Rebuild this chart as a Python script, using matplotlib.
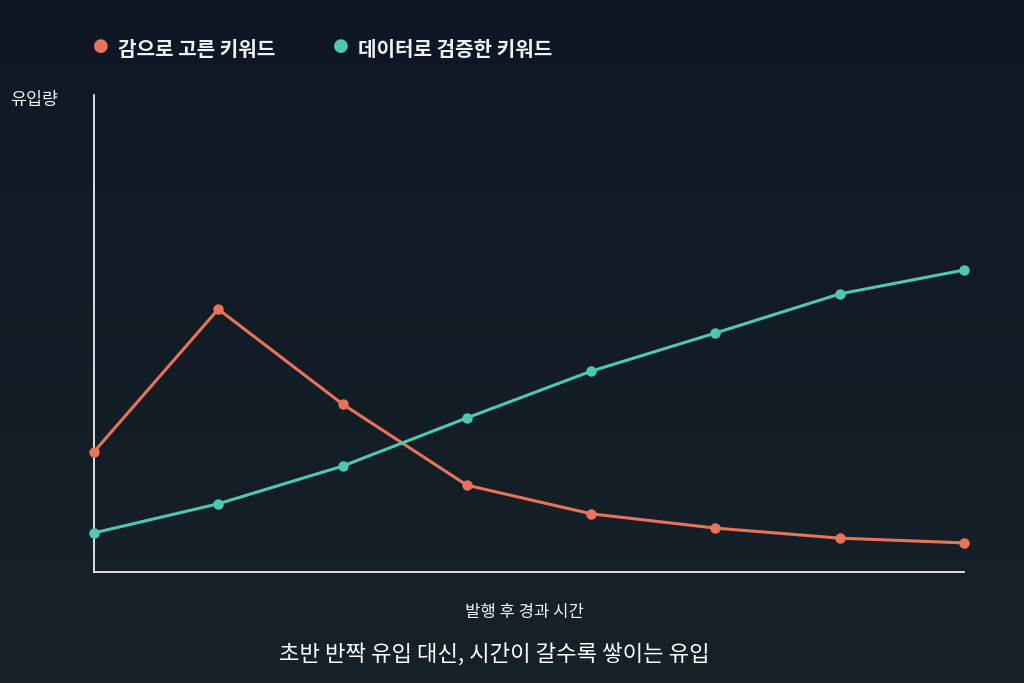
import numpy as np
import matplotlib.pyplot as plt
from matplotlib.colors import LinearSegmentedColormap

plt.rcParams['font.family'] = ['Noto Sans CJK KR', 'DejaVu Sans']

# 발행 후 경과 시간 (단계)
steps = [0, 1, 2, 3, 4, 5, 6, 7]
gut_keywords = [25.2, 55.1, 35.2, 18.2, 12.2, 9.2, 7.1, 6.1]
data_keywords = [8.2, 14.3, 22.2, 32.3, 42.1, 50.1, 58.3, 63.3]

orange = '#e8735a'
teal = '#4ec9b0'
txt = '#eef2f4'

fig = plt.figure(figsize=(10.24, 6.83), dpi=100)

# 배경 그라디언트
bg = fig.add_axes([0, 0, 1, 1])
grad = np.linspace(0, 1, 256).reshape(-1, 1)
cmap = LinearSegmentedColormap.from_list('bg', ['#0f1724', '#172228'])
bg.imshow(grad, aspect='auto', cmap=cmap, extent=[0, 1, 0, 1], origin='upper')
bg.axis('off')

ax = fig.add_axes([94 / 1024, 1 - 572 / 683, 870 / 1024, 477 / 683])
ax.patch.set_alpha(0)
ax.plot(steps, gut_keywords, color=orange, lw=2.2, marker='o', ms=6.5, clip_on=False, zorder=3)
ax.plot(steps, data_keywords, color=teal, lw=2.2, marker='o', ms=6.5, clip_on=False, zorder=3)
ax.set_xlim(0, 7)
ax.set_ylim(0, 100)
ax.set_xticks([])
ax.set_yticks([])
for s in ['top', 'right']:
    ax.spines[s].set_visible(False)
for s in ['left', 'bottom']:
    ax.spines[s].set_color('#ffffff')
    ax.spines[s].set_linewidth(1.2)

# 범례
fig.text(101 / 1024, 1 - 46 / 683, '●', color=orange, fontsize=13, ha='center', va='center',
         family=['DejaVu Sans'])
fig.text(118 / 1024, 1 - 50 / 683, '감으로 고른 키워드', color=txt, fontsize=14.5,
         fontweight='bold', va='center')
fig.text(341 / 1024, 1 - 46 / 683, '●', color=teal, fontsize=13, ha='center', va='center',
         family=['DejaVu Sans'])
fig.text(358 / 1024, 1 - 50 / 683, '데이터로 검증한 키워드', color=txt, fontsize=14.5,
         fontweight='bold', va='center')

fig.text(10 / 1024, 1 - 100 / 683, '유입량', color=txt, fontsize=12.5, va='center')
fig.text(524 / 1024, 1 - 612 / 683, '발행 후 경과 시간', color=txt, fontsize=12,
         ha='center', va='center')
fig.text(494 / 1024, 1 - 655 / 683, '초반 반짝 유입 대신, 시간이 갈수록 쌓이는 유입', color='#ffffff',
         fontsize=16, fontweight='medium', ha='center', va='center')

fig.savefig('out.png', dpi=100)
